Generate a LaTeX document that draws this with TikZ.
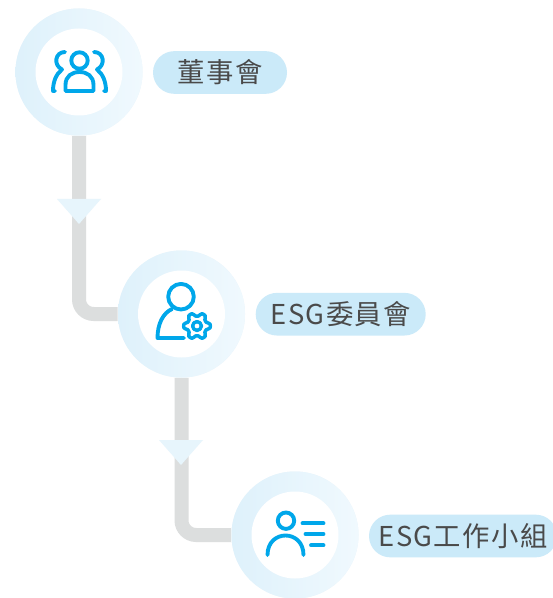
\documentclass[tikz,border=0pt]{standalone}
\usepackage{fontspec}
\setmainfont[LetterSpace=5]{Noto Sans CJK TC}
\usetikzlibrary{backgrounds,shapes.misc}
\definecolor{ringL}{HTML}{DEF1FB}
\definecolor{ringR}{HTML}{F0F9FE}
\definecolor{ringM}{HTML}{E7F5FC}
\definecolor{pillc}{HTML}{CBEAF9}
\definecolor{linec}{HTML}{DCDEDE}
\definecolor{iconc}{HTML}{00A7EA}
\definecolor{textc}{HTML}{4A4A4A}
\tikzset{
  x=0.75pt,y=-0.75pt,
  ring/.style={circle,inner sep=0pt,minimum size=95.25pt,fill=ringM,left color=ringL,right color=ringR,draw=none},
  hole/.style={circle,inner sep=0pt,minimum size=65.25pt,fill=white,draw=none},
  pill/.style={rounded rectangle,inner sep=0pt,minimum height=32pt,fill=pillc,draw=none,text=textc,font=\fontsize{20.5pt}{22pt}\selectfont},
  link/.style={draw=linec,line width=10.5pt,rounded corners=11pt},
  tri/.style={fill=ringM,draw=none},
  icon/.style={draw=iconc,line width=2.9pt,line cap=round,line join=round},
}
\begin{document}
\begin{tikzpicture}
\useasboundingbox (0,0) rectangle (552,598);
% nodes
\node[ring] (c1) at (79,72) {};
\node[hole] (h1) at (c1) {};
\node[ring] (c2) at (181.5,314) {};
\node[hole] (h2) at (c2) {};
\node[ring] (c3) at (295,535) {};
\node[hole] (h3) at (c3) {};
\node[pill,minimum width=100.5pt] (p1) at (220,72.5) {董事會};
\node[pill,minimum width=127.5pt] (p2) at (340.7,314.2) {ESG委員會};
\node[pill,minimum width=141pt] (p3) at (463,536) {ESG工作小組};
% connectors
\begin{scope}[on background layer]
\fill[white] (0,0) rectangle (552,598);
\draw[link] (c1) |- (c2);
\draw[link] (c2) |- (c3);
\end{scope}
% arrow triangles
\fill[tri] (57,199) -- (101,199) -- (79,224) -- cycle;
\fill[tri] (159,440) -- (203,440) -- (181,465) -- cycle;
% icon 1: group
\draw[icon] (79.5,60.5) circle (8.2);
\draw[icon] (65.5,91) -- (65.5,85) .. controls (65.5,76) and (72,72) .. (79.5,72) .. controls (87,72) and (93.5,76) .. (93.5,85) -- (93.5,91) -- cycle;
\draw[icon] (65,52) .. controls (55,52) and (53,65) .. (62,69.5) .. controls (56,74) and (53,82) .. (53,91) -- (55,91);
\draw[icon] (94,52) .. controls (104,52) and (106,65) .. (97,69.5) .. controls (103,74) and (106,82) .. (106,91) -- (104,91);
% icon 2: person with gear
\draw[icon] (181,296.7) circle (12.8);
\draw[icon] (184,338) -- (157.5,338) .. controls (157.5,324) and (163,313) .. (172,309);
\begin{scope}[shift={(197,326)}]
\draw[icon,line width=2.6pt] plot[smooth cycle,samples=48,domain=0:352.5,variable=\t] (\t:{11.6+1.7*max(min(2*cos(6*\t),1),-1)});
\draw[icon,line width=2.6pt] (0,0) circle (4.4);
\end{scope}
% icon 3: person with list
\draw[icon] (286,520.7) circle (8.2);
\draw[icon] (267.5,555) .. controls (267.5,529) and (303.5,529) .. (303.5,555);
\draw[icon] (302.5,523.3) -- (323.5,523.3);
\draw[icon] (305.5,534) -- (323.5,534);
\draw[icon] (311,545.3) -- (323.5,545.3);
\end{tikzpicture}
\end{document}
